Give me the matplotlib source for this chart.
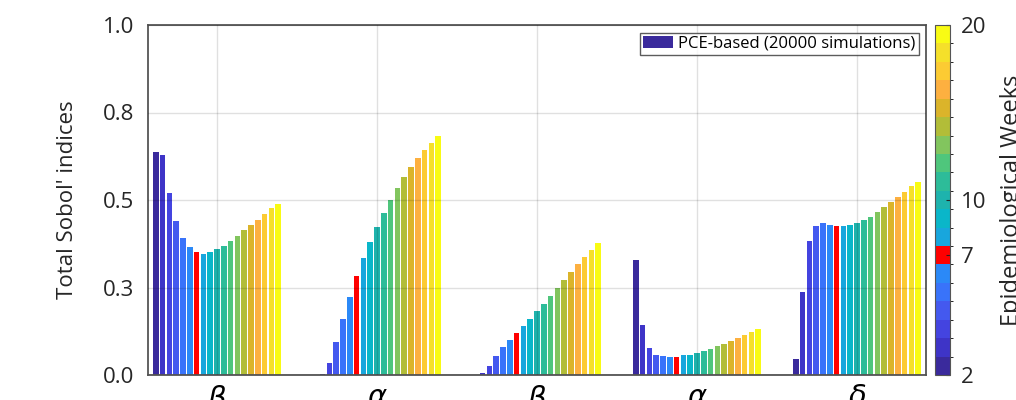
import numpy as np
import matplotlib
matplotlib.use("Agg")
import matplotlib.pyplot as plt
from matplotlib.colors import ListedColormap, BoundaryNorm
from matplotlib.cm import ScalarMappable

plt.rcParams['font.family'] = ['Open Sans', 'DejaVu Sans']

# parameters on the x axis and the weekly total Sobol' indices (weeks 2..20)
params = [r'$\beta$', r'$\alpha$', r'$\beta$', r'$\alpha$', r'$\delta$']
weeks = list(range(2, 21))
sobol = [
    [0.636, 0.629, 0.519, 0.441, 0.392, 0.367, 0.352, 0.347, 0.351, 0.360,
     0.369, 0.383, 0.397, 0.413, 0.429, 0.444, 0.461, 0.476, 0.489],
    [0.000, 0.004, 0.035, 0.095, 0.161, 0.224, 0.282, 0.333, 0.380, 0.424,
     0.464, 0.501, 0.534, 0.567, 0.595, 0.620, 0.644, 0.664, 0.684],
    [0.000, 0.005, 0.027, 0.054, 0.079, 0.100, 0.121, 0.140, 0.161, 0.183,
     0.203, 0.226, 0.249, 0.271, 0.294, 0.316, 0.336, 0.357, 0.376],
    [0.330, 0.144, 0.076, 0.058, 0.054, 0.052, 0.052, 0.056, 0.058, 0.064,
     0.070, 0.075, 0.083, 0.090, 0.098, 0.106, 0.113, 0.123, 0.131],
    [0.047, 0.236, 0.383, 0.427, 0.433, 0.429, 0.425, 0.425, 0.429, 0.435,
     0.442, 0.452, 0.467, 0.480, 0.495, 0.510, 0.524, 0.539, 0.551],
]
cbar_ticks = ['2', '7', '10', '20']
ytick_labels = ['0.0', '0.3', '0.5', '0.8', '1.0']
legend_label = 'PCE-based (20000 simulations)'

# parula-like colours, 7th week highlighted in red
colors = ['#3a2a9c', '#3e34c7', '#4444e0', '#4459ef', '#3973fa', '#2b89f7',
          '#ff0000', '#18a6dd', '#0ab6c9', '#1eb3ad', '#2dbc99', '#4fc67c',
          '#82c55e', '#b2bd38', '#dbb42a', '#fdb040', '#fccb33', '#f5e02a',
          '#f9fb14']

fig = plt.figure(figsize=(10.16, 4), dpi=100)
ax = fig.add_axes([148 / 1016, 25 / 400, 778 / 1016, 350 / 400])
cax = fig.add_axes([935 / 1016, 25 / 400, 15 / 1016, 350 / 400])

x = np.arange(1, len(params) + 1)
data = np.array(sobol)
pitch = 0.0425
for k in range(len(weeks)):
    off = (k - (len(weeks) - 1) / 2) * pitch
    ax.bar(x + off, data[:, k], width=0.035, color=colors[k], linewidth=0,
           label=legend_label if k == 0 else None, zorder=2)

ax.set_xlim(0.569, 5.431)
ax.set_ylim(0, 1.0)
ax.set_yticks([0, 0.25, 0.5, 0.75, 1.0])
ax.set_yticklabels(ytick_labels)
ax.set_xticks(x)
ax.set_xticklabels(params, fontsize=21)
ax.tick_params(axis='x', length=0, pad=6)
ax.tick_params(axis='y', length=0, pad=10, labelsize=16, colors='#262626')
ax.grid(True, color='k', alpha=0.12, linewidth=1)
ax.set_axisbelow(False)
for s in ax.spines.values():
    s.set_color('#555555')
    s.set_linewidth(1.3)
ax.set_ylabel("Total Sobol' indices", fontsize=16, color='#262626', labelpad=18)

leg = ax.legend(loc='upper right', fontsize=12, frameon=True, fancybox=False,
                edgecolor='#333333', borderpad=0.2, handlelength=1.8,
                handletextpad=0.3, borderaxespad=0.45)
leg.get_frame().set_linewidth(1.0)

cmap = ListedColormap(colors)
norm = BoundaryNorm(np.arange(len(weeks) + 1), len(weeks))
cb = fig.colorbar(ScalarMappable(norm=norm, cmap=cmap), cax=cax)
cb.set_ticks([0, 6.5, 9.5, 19])
cb.set_ticklabels(cbar_ticks)
cb.ax.tick_params(labelsize=16, length=3, direction='in', pad=8, colors='#262626')
cb.outline.set_edgecolor('#555555')
cb.set_label('Epidemiological Weeks', fontsize=17, color='#262626', labelpad=10)

fig.savefig('out.png', dpi=100)
